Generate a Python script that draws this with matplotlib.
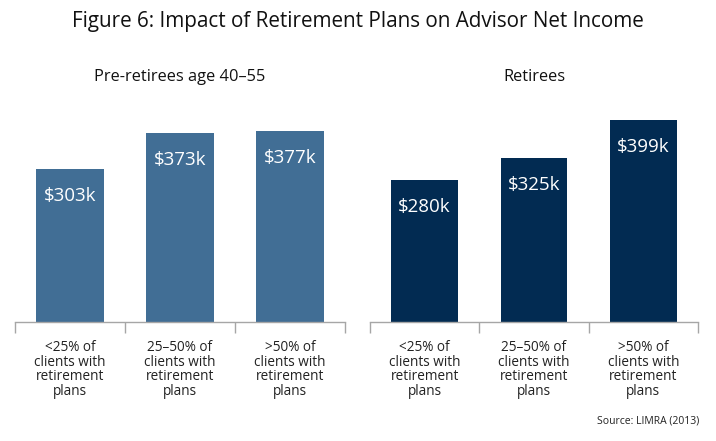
import matplotlib
matplotlib.use("Agg")
import matplotlib.pyplot as plt

categories = ["<25% of\nclients with\nretirement\nplans",
              "25\u201350% of\nclients with\nretirement\nplans",
              ">50% of\nclients with\nretirement\nplans"]
pre_retirees = [303, 373, 377]
retirees = [280, 325, 399]
panel_titles = ["Pre-retirees age 40\u201355", "Retirees"]
title = "Figure 6: Impact of Retirement Plans on Advisor Net Income"
source = "Source: LIMRA (2013)"

plt.rcParams['font.family'] = ['Open Sans', 'DejaVu Sans']

W, H = 716, 441
fig = plt.figure(figsize=(W/100, H/100), dpi=100)

def px_axes(x0, x1, ybot, ytop):
    return fig.add_axes([x0/W, (H-ybot)/H, (x1-x0)/W, (ybot-ytop)/H])

ybase, ytop = 322, 100
ymax = (ybase - ytop) / 0.506
colors = ["#416E95", "#022B52"]
gray = "#A6A6A6"
panels = [(15, 345, pre_retirees), (370, 698, retirees)]

for i, (x0, x1, vals) in enumerate(panels):
    ax = px_axes(x0, x1, ybase, ytop)
    xs = list(range(len(vals)))
    ax.bar(xs, vals, width=0.61, color=colors[i])
    ax.set_xlim(-0.5, 2.5)
    ax.set_ylim(0, ymax)
    for s in ["top", "right", "left"]:
        ax.spines[s].set_visible(False)
    ax.spines["bottom"].set_color(gray)
    ax.spines["bottom"].set_linewidth(1.0)
    ax.set_yticks([])
    ax.set_xticks([-0.5, 0.5, 1.5, 2.5])
    ax.set_xticklabels([])
    ax.tick_params(axis="x", which="major", length=8, color=gray, width=1.0)
    ax.set_xticks(xs, minor=True)
    ax.set_xticklabels(categories, minor=True, fontsize=9.8, color="#222222",
                       linespacing=0.97)
    ax.tick_params(axis="x", which="minor", length=0, pad=13)
    for x, v in zip(xs, vals):
        ax.text(x, v - 27/0.506, f"${v}k", ha="center", va="center",
                color="white", fontsize=13.5)
    fig.text((x0 + x1) / 2 / W, (H - 77) / H, panel_titles[i], ha="center",
             va="center", fontsize=11.8, color="#111111")

fig.text(358/W, (H-22)/H, title, ha="center", va="center", fontsize=14.9,
         color="#111111")
fig.text(699/W, (H-421)/H, source, ha="right", va="center", fontsize=7.5,
         color="#222222")

fig.savefig("out.png", dpi=100, facecolor="white")
